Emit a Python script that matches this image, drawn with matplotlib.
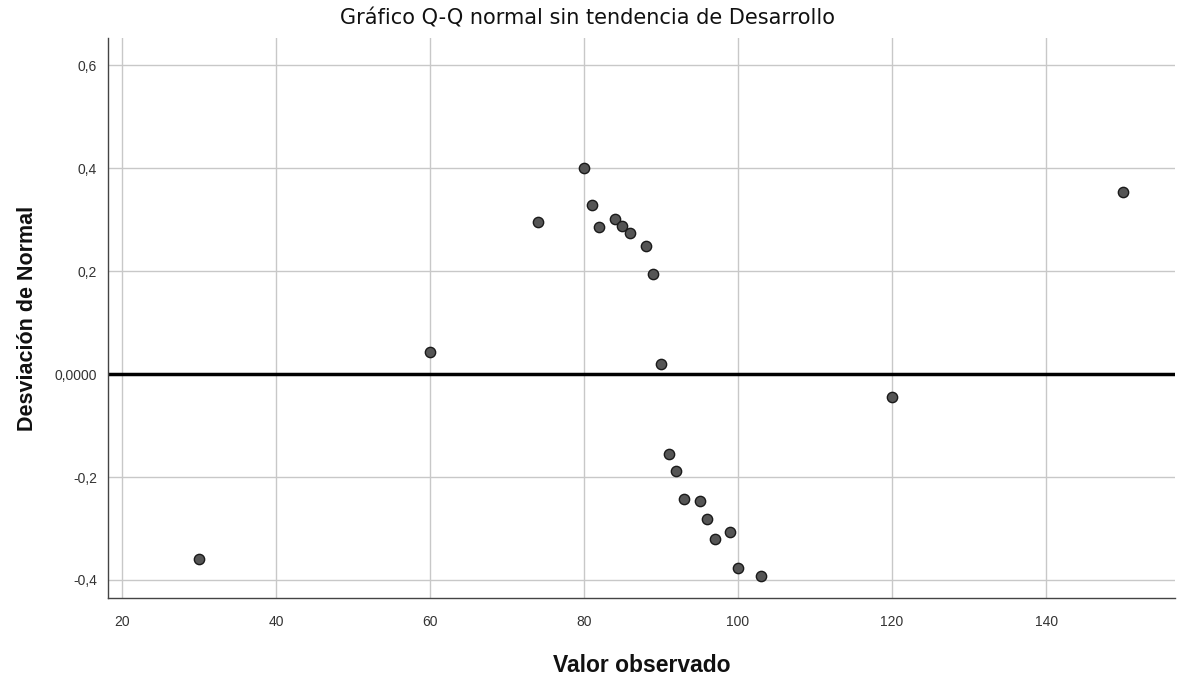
import matplotlib as mpl
import matplotlib.pyplot as plt
import numpy as np

mpl.use("Agg")
plt.rcParams['font.family'] = ['Liberation Sans', 'DejaVu Sans']

# Observed values and their deviation from normal
valor_observado = [30, 60, 74, 80, 81, 82, 84, 85, 86, 88, 89, 90,
                   91, 92, 93, 95, 96, 97, 99, 100, 103, 120, 150]
desviacion = [-0.359, 0.043, 0.296, 0.400, 0.328, 0.286, 0.302, 0.287,
              0.274, 0.248, 0.194, 0.019, -0.156, -0.188, -0.243, -0.247,
              -0.282, -0.321, -0.307, -0.376, -0.392, -0.045, 0.354]

x_ticks = [20, 40, 60, 80, 100, 120, 140]
y_ticks = [-0.4, -0.2, 0.0, 0.2, 0.4, 0.6]
y_tick_labels = ["-0,4", "-0,2", "0,0000", "0,2", "0,4", "0,6"]

fig = plt.figure(figsize=(11.83, 6.84), dpi=100)
ax = fig.add_axes([0.0913, 0.1257, 0.9017, 0.8183])

ax.set_xlim(18.2, 156.7)
ax.set_ylim(-0.435, 0.652)
ax.set_xticks(x_ticks)
ax.set_yticks(y_ticks)
ax.set_yticklabels(y_tick_labels)
ax.tick_params(length=0, labelsize=10, colors="#333333")
ax.tick_params(axis="x", pad=12)
ax.tick_params(axis="y", pad=8)
ax.grid(True, color="#c8c8c8", linewidth=1)
ax.set_axisbelow(True)

for s in ["top", "right"]:
    ax.spines[s].set_visible(False)
for s in ["left", "bottom"]:
    ax.spines[s].set_color("#444444")
    ax.spines[s].set_linewidth(1)

ax.axhline(0, color="black", linewidth=2.5, zorder=2)

ax.scatter(valor_observado, desviacion, s=55, color="#555555",
           edgecolors="#1a1a1a", linewidths=1, zorder=3)

fig.text(0.497, 0.973, "Gráfico Q-Q normal sin tendencia de Desarrollo",
         fontsize=15, family="DejaVu Sans", ha="center", va="center", color="#111111")
ax.set_xlabel("Valor observado", fontsize=16.5, fontweight="bold", labelpad=18, color="#111111")
ax.set_ylabel("Desviación de Normal", fontsize=15.5, fontweight="bold", labelpad=12, color="#111111")

plt.savefig("out.png", dpi=100)
